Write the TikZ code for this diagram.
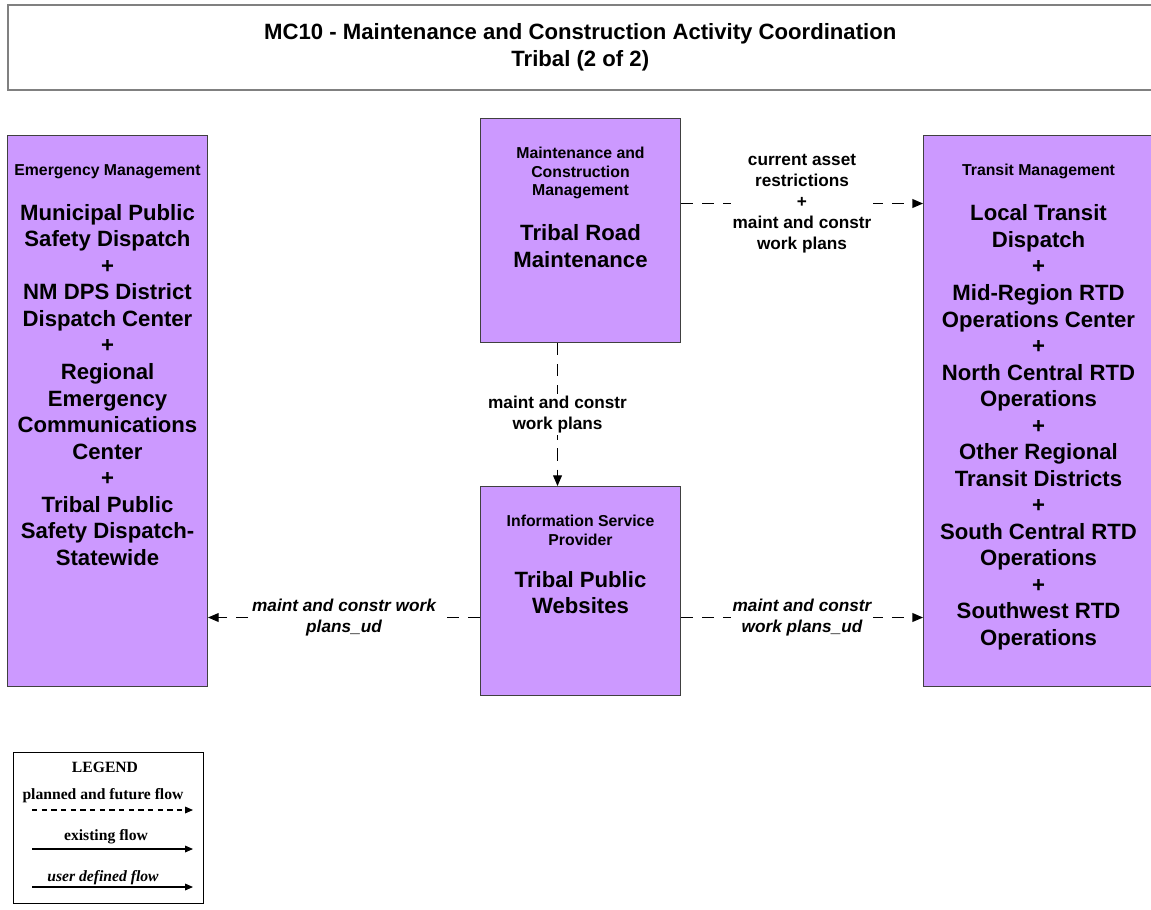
\documentclass[tikz,border=0pt]{standalone}
\usepackage{fontspec}
\setmainfont{Liberation Sans}
\newfontfamily\legendfont{Liberation Serif}
\usetikzlibrary{arrows.meta,positioning}
\definecolor{Lilac}{HTML}{CC99FF}
\definecolor{Edge}{HTML}{404040}
\definecolor{Frame}{HTML}{808080}
\newcommand{\subsys}[6]{%
  \node[sysbox,minimum width=#3,minimum height=#4] (#1) at (#2) {};
  \node[head] (#1h) at ([yshift=-0.58cm]#1.north) {#5};
  \node[big,below=0.5cm of #1h] (#1b) {#6};
}

\begin{document}
\begin{tikzpicture}[x=0.02cm,y=-0.02cm,
        sysbox/.style={draw=Edge,fill=Lilac,line width=0.6pt,anchor=north west,inner sep=0pt},
        head/.style={anchor=north,align=center,inner sep=0pt,font=\fontsize{9}{10.5}\selectfont\bfseries},
        big/.style={align=center,inner sep=0pt,font=\fontsize{12.6}{15.1}\selectfont\bfseries},
        flow/.style={dash pattern=on 7pt off 5pt,line width=0.6pt,-{Triangle[length=6pt,width=5pt]}},
        lbl/.style={fill=white,align=center,inner sep=1pt,font=\fontsize{9.8}{11.9}\selectfont\bfseries},
        udlbl/.style={lbl,font=\fontsize{9.8}{11.9}\selectfont\bfseries\itshape},
        legtxt/.style={inner sep=0pt,font=\legendfont\fontsize{8.9}{10}\selectfont\bfseries},
        legit/.style={legtxt,font=\legendfont\fontsize{8.9}{10}\selectfont\bfseries\itshape},
        legline/.style={line width=0.6pt,-{Triangle[length=4.5pt,width=3.8pt]}}]
        \useasboundingbox (0,0) rectangle (1151,909);
        \node[draw=Frame,line width=1pt,anchor=north west,minimum width=22.9cm,minimum height=1.7cm,align=center,
          font=\fontsize{12.6}{15.3}\selectfont\bfseries] (title) at (7,4)
          {MC10 - Maintenance and Construction Activity Coordination\\Tribal (2 of 2)};
        \subsys{em}{7,135}{4cm}{11.02cm}{Emergency Management}{Municipal Public\\Safety Dispatch\\+\\NM DPS District\\Dispatch Center\\+\\Regional\\Emergency\\Communications\\Center\\+\\Tribal Public\\Safety Dispatch-\\Statewide}
        \subsys{rm}{480,118}{4cm}{4.48cm}{Maintenance and\\Construction\\Management}{Tribal Road\\Maintenance}
        \subsys{isp}{480,486}{4cm}{4.18cm}{Information Service\\Provider}{Tribal Public\\Websites}
        \subsys{tm}{923,135}{4.6cm}{11.02cm}{Transit Management}{Local Transit\\Dispatch\\+\\Mid-Region RTD\\Operations Center\\+\\North Central RTD\\Operations\\+\\Other Regional\\Transit Districts\\+\\South Central RTD\\Operations\\+\\Southwest RTD\\Operations}
        \coordinate (cap) at ([yshift=0.54cm]rm.center);
        \coordinate (ud) at ([yshift=-0.53cm]isp.center);
        \draw[flow] (rm.east|-cap) -- (tm.west|-cap) node[lbl,midway] (caplbl) {current asset\\restrictions\\+\\maint and constr\\work plans};
        \draw[flow] ([xshift=-0.46cm]rm.south) -- ([xshift=-0.46cm]isp.north) node[lbl,midway] (wplbl) {maint and constr\\work plans};
        \draw[flow] (isp.west|-ud) -- (em.east|-ud) node[udlbl,midway] (udl) {maint and constr work\\plans\_ud};
        \draw[flow] (isp.east|-ud) -- (tm.west|-ud) node[udlbl,midway] (udr) {maint and constr\\work plans\_ud};
        \node[draw,line width=0.8pt,anchor=north west,minimum width=3.8cm,minimum height=3.02cm] (leg) at (13,752) {};
        \node[legtxt] (legt) at (105,767) {LEGEND};
        \node[legtxt] (leg1) at (103,796) {planned and future flow};
        \node[legtxt] (leg2) at (106,837) {existing flow};
        \node[legit] (leg3) at (103,878) {user defined flow};
        \coordinate (p1) at (32,810);
        \coordinate (p2) at (193,810);
        \coordinate (e1) at (32,849);
        \coordinate (e2) at (193,849);
        \coordinate (u1) at (32,887);
        \coordinate (u2) at (193,887);
        \draw[legline,dash pattern=on 3pt off 2.5pt] (p1) -- (p2);
        \draw[legline] (e1) -- (e2);
        \draw[legline] (u1) -- (u2);
\end{tikzpicture}
\end{document}
